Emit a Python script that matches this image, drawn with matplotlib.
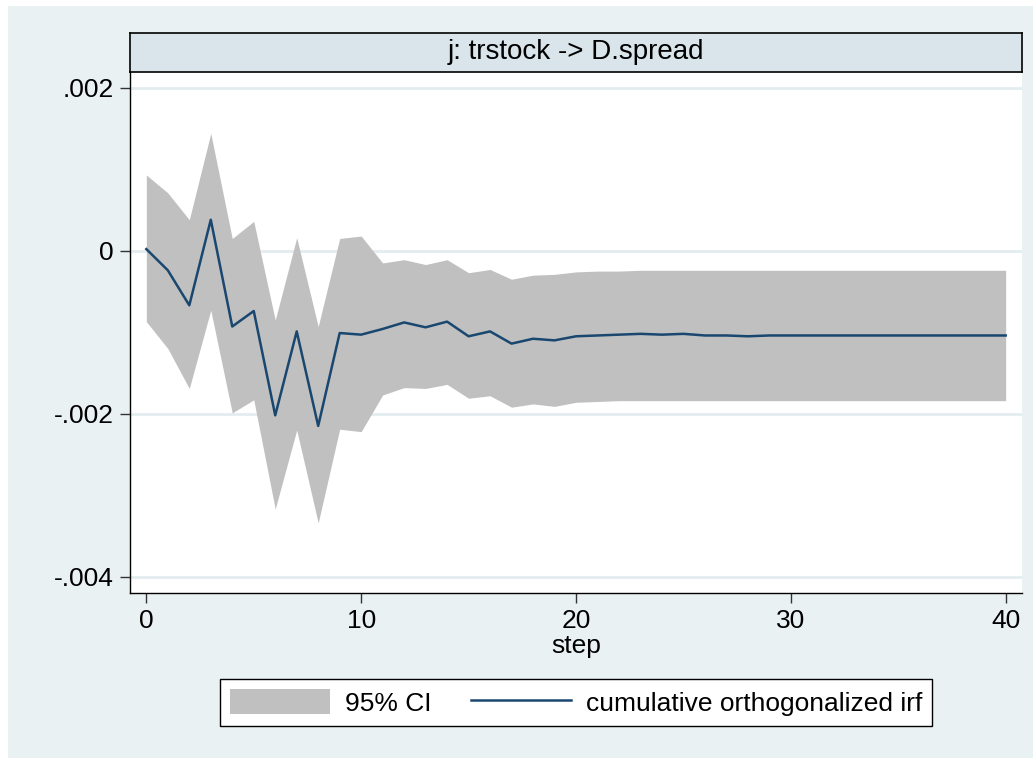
import matplotlib
matplotlib.use("Agg")
import matplotlib.pyplot as plt
from matplotlib.patches import Rectangle, Patch
from matplotlib.lines import Line2D

plt.rcParams['font.family'] = ['Liberation Sans', 'DejaVu Sans']

# Cumulative orthogonalized IRF: trstock -> D.spread
steps = list(range(41))
irf = [0.00002, -0.00024, -0.00067, 0.00038, -0.00093, -0.00074, -0.00202,
       -0.00099, -0.00215, -0.00101, -0.00103, -0.00096, -0.00088, -0.00094,
       -0.00087, -0.00105, -0.00099, -0.00114, -0.00108, -0.00110, -0.00105,
       -0.00104, -0.00103, -0.00102, -0.00103, -0.00102, -0.00104, -0.00104,
       -0.00105, -0.00104, -0.00104, -0.00104, -0.00104, -0.00104, -0.00104,
       -0.00104, -0.00104, -0.00104, -0.00104, -0.00104, -0.00104]
ci_upper = [0.00093, 0.00071, 0.00038, 0.00144, 0.00015, 0.00036, -0.00085,
            0.00016, -0.00093, 0.00015, 0.00018, -0.00015, -0.00011, -0.00017,
            -0.00011, -0.00027, -0.00023, -0.00035, -0.00030, -0.00029, -0.00026,
            -0.00025, -0.00025, -0.00024, -0.00024, -0.00024, -0.00024, -0.00024,
            -0.00024, -0.00024, -0.00024, -0.00024, -0.00024, -0.00024, -0.00024,
            -0.00024, -0.00024, -0.00024, -0.00024, -0.00024, -0.00024]
ci_lower = [-0.00087, -0.00120, -0.00169, -0.00073, -0.00199, -0.00183, -0.00317,
            -0.00220, -0.00334, -0.00219, -0.00222, -0.00177, -0.00168, -0.00169,
            -0.00164, -0.00181, -0.00178, -0.00192, -0.00188, -0.00191, -0.00186,
            -0.00185, -0.00184, -0.00184, -0.00184, -0.00184, -0.00184, -0.00184,
            -0.00184, -0.00184, -0.00184, -0.00184, -0.00184, -0.00184, -0.00184,
            -0.00184, -0.00184, -0.00184, -0.00184, -0.00184, -0.00184]

x_ticks = [0, 10, 20, 30, 40]
y_ticks = [0.002, 0.0, -0.002, -0.004]
y_tick_labels = ['.002', '0', '-.002', '-.004']
panel_title = 'j: trstock -> D.spread'
x_label = 'step'
legend_labels = ['95% CI', 'cumulative orthogonalized irf']

W, H = 1033, 758
BG = '#EAF1F3'
STRIP = '#D9E5EA'
NAVY = '#1A476F'
CI_GRAY = '#C0C0C0'
FS = 19
FS_TITLE = 20

fig = plt.figure(figsize=(W / 100, H / 100), dpi=100)
fig.patch.set_facecolor(BG)
# thin white margin on the left and top edges
fig.add_artist(Rectangle((0, 0), 8 / W, 1, transform=fig.transFigure,
                         facecolor='white', edgecolor='none', zorder=-10))
fig.add_artist(Rectangle((0, 1 - 6 / H), 1, 6 / H, transform=fig.transFigure,
                         facecolor='white', edgecolor='none', zorder=-10))

# plot region
left, right, top, bottom = 130, 1022, 72, 593
ax = fig.add_axes([left / W, 1 - bottom / H, (right - left) / W, (bottom - top) / H])
ax.set_facecolor('white')
ax.fill_between(steps, ci_lower, ci_upper, color=CI_GRAY, lw=0, zorder=2)
ax.plot(steps, irf, color=NAVY, lw=1.8, zorder=3)

ax.set_xlim(-0.76, 40.76)
ax.set_ylim(-0.0042, 0.002193)
ax.set_xticks(x_ticks)
ax.set_yticks(y_ticks)
ax.set_yticklabels(y_tick_labels)
ax.yaxis.grid(True, color='#E3EDF0', lw=2.0, zorder=1)
ax.set_axisbelow(True)
for s in ['top', 'right']:
    ax.spines[s].set_visible(False)
for s in ['left', 'bottom']:
    ax.spines[s].set_color('black')
    ax.spines[s].set_linewidth(1.0)
ax.tick_params(axis='both', length=7.5, width=1.0, color='#333333',
               labelsize=FS, labelcolor='black')
ax.tick_params(axis='y', pad=4)
ax.tick_params(axis='x', pad=4)
ax.set_xlabel(x_label, fontsize=FS, labelpad=1)

# panel title strip
strip_top, strip_bot = 33, 71.5
tax = fig.add_axes([left / W, 1 - strip_bot / H, (right - left) / W, (strip_bot - strip_top) / H])
tax.set_facecolor(STRIP)
tax.set_xticks([])
tax.set_yticks([])
for s in tax.spines.values():
    s.set_color('black')
    s.set_linewidth(1.2)
tax.text(0.5, 0.5, panel_title, ha='center', va='center', fontsize=FS_TITLE,
         transform=tax.transAxes)

# legend
handles = [Patch(facecolor=CI_GRAY, edgecolor='none'),
           Line2D([0], [0], color=NAVY, lw=1.8)]
leg = fig.legend(handles, legend_labels, ncol=2, loc='center',
                 bbox_to_anchor=(576 / W, 1 - 702.4 / H), fontsize=FS,
                 frameon=True, fancybox=False, framealpha=1,
                 edgecolor='black', facecolor='white',
                 handlelength=3.8, handleheight=1.09, handletextpad=0.56,
                 columnspacing=1.48, borderpad=0.38, borderaxespad=0)
leg.get_frame().set_linewidth(1.0)

fig.savefig('out.png', dpi=100, facecolor=fig.get_facecolor())
